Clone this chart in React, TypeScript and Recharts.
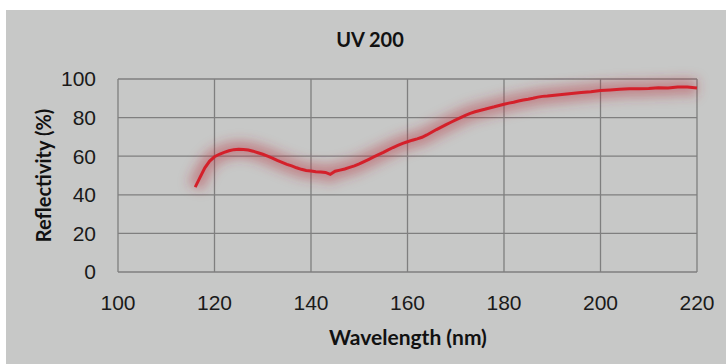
import React from "react";
import { LineChart, Line, XAxis, YAxis, CartesianGrid } from "recharts";

const wavelengths = [116,117,118,119,120,121,122,123,124,125,126,127,128,129,130,131,132,133,134,135,136,137,138,139,140,141,142,143,144,145,146,147,148,149,150,151,152,153,154,155,156,157,158,159,160,161,162,163,164,165,166,167,168,169,170,171,172,173,174,175,176,177,178,179,180,181,182,183,184,185,186,187,188,189,190,192,194,196,198,200,202,204,206,208,210,212,214,216,218,220];
const reflectivity = [44,49,54,57.5,59.7,61,62,62.8,63.4,63.6,63.5,63.2,62.6,61.8,61,60,59,57.8,56.8,55.8,55,54,53.2,52.6,52.3,52,51.8,51.6,50.6,52.2,52.8,53.4,54.2,55,56,57.2,58.4,59.6,60.8,62,63.3,64.5,65.6,66.6,67.5,68.3,69,69.8,71,72.4,73.8,75.1,76.4,77.6,78.8,80,81.2,82.2,83,83.7,84.3,85,85.6,86.3,86.9,87.5,88,88.6,89.1,89.5,90,90.6,91,91.2,91.5,92,92.5,93,93.4,94,94.3,94.7,94.9,95,95.1,95.5,95.4,95.8,95.8,95.3];
const xTicks = [100,120,140,160,180,200,220];
const yTicks = [0,20,40,60,80,100];
const title = "UV 200";
const xLabel = "Wavelength (nm)";
const yLabel = "Reflectivity (%)";

const data = wavelengths.map((w, i) => ({ w, r: reflectivity[i] }));

const W = 720;
const H = 354;
const M = { top: 69, right: 29, bottom: 0, left: 0 };
const YW = 112;
const XH = 92;
const BOLD = "Lato, 'Open Sans', sans-serif";
const TICK = { fontFamily: "'Liberation Sans', Arial, sans-serif", fontSize: 21, fill: "#1a1a1a" };

export default function App() {
  return (
    <div style={{ position: "absolute", left: 6, top: 10, width: W, height: H, background: "#c7c8c7" }}>
      <LineChart width={W} height={H} data={data} margin={M}>
        <defs>
          <filter id="glow" x="-20%" y="-50%" width="140%" height="200%">
            <feGaussianBlur stdDeviation="6" />
          </filter>
        </defs>
        <CartesianGrid stroke="#7f7f7f" strokeWidth={1.3} />
        <XAxis
          dataKey="w"
          type="number"
          domain={[100, 220]}
          ticks={xTicks}
          height={XH}
          axisLine={false}
          tickLine={false}
          tickSize={0}
          tickMargin={23}
          tick={TICK}
          interval={0}
        />
        <YAxis
          type="number"
          domain={[0, 100]}
          ticks={yTicks}
          width={YW}
          axisLine={false}
          tickLine={false}
          tickSize={0}
          tickMargin={22}
          tick={TICK}
          interval={0}
        />
        <Line
          dataKey="r"
          type="linear"
          stroke="#b8303e"
          strokeOpacity={0.45}
          strokeWidth={16}
          dot={false}
          activeDot={false}
          filter="url(#glow)"
          isAnimationActive={false}
        />
        <Line
          dataKey="r"
          type="linear"
          stroke="#d4202a"
          strokeWidth={3}
          dot={false}
          activeDot={false}
          isAnimationActive={false}
        />
        <text x={364} y={29} textAnchor="middle" dominantBaseline="central" fontFamily={BOLD} fontWeight={700} fontSize={20} fill="#111">{title}</text>
        <text x={402} y={326} textAnchor="middle" dominantBaseline="central" fontFamily={BOLD} fontWeight={700} fontSize={21} fill="#111">{xLabel}</text>
        <text x={37} y={165.5} textAnchor="middle" dominantBaseline="central" fontFamily={BOLD} fontWeight={700} fontSize={20} fill="#111" transform="rotate(-90 37 165.5)">{yLabel}</text>
      </LineChart>
    </div>
  );
}
